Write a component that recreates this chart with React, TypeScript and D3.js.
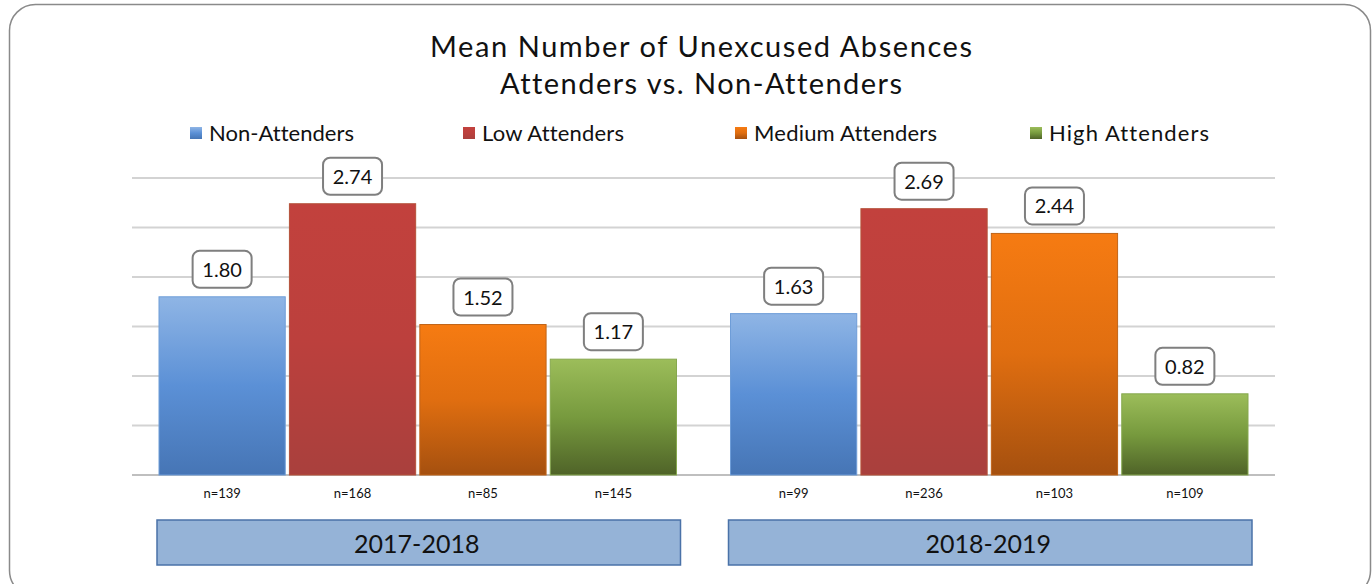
import React from "react";
import * as d3 from "d3";

const years = ["2017-2018", "2018-2019"];
const seriesNames = ["Non-Attenders", "Low Attenders", "Medium Attenders", "High Attenders"];
const values2017 = [1.8, 2.74, 1.52, 1.17];
const values2018 = [1.63, 2.69, 2.44, 0.82];
const counts2017 = ["n=139", "n=168", "n=85", "n=145"];
const counts2018 = ["n=99", "n=236", "n=103", "n=109"];
const yTicks = [0, 0.5, 1, 1.5, 2, 2.5, 3];

const gradStops = [
  ["#8FB5E5", "#5B90D6", "#4675B5"],
  ["#C2413D", "#BC403D", "#A9403D"],
  ["#F67B12", "#E06E10", "#A5500F"],
  ["#9CBD5A", "#779A3E", "#4F6328"],
];
const strokes = ["#6E9DD8", "#B5523A", "#C06418", "#86A84E"];

const FONT = "Lato, 'Open Sans', sans-serif";

export default function App() {
  const W = 1372, H = 584;
  const left = 132, right = 1275, top = 178, bottom = 475;
  const x0 = d3.scaleBand<string>().domain(years).range([left, right]);
  const x1 = d3.scaleBand<string>().domain(seriesNames).range([27, x0.bandwidth() - 27]).paddingInner(0.032);
  const y = d3.scaleLinear().domain([0, 3]).range([bottom, top]);
  const data = [
    { year: years[0], values: values2017, counts: counts2017 },
    { year: years[1], values: values2018, counts: counts2018 },
  ];
  const legendX = [190, 463, 735, 1030];
  const legendW = [145, 142, 183, 160];

  return (
    <svg width={W} height={H} style={{ position: "absolute", left: 0, top: 0, fontVariantLigatures: "none" }} fontFamily={FONT}>
      <defs>
        {gradStops.map((s, i) => (
          <linearGradient key={i} id={`g${i}`} x1="0" y1="0" x2="0" y2="1">
            <stop offset="0%" stopColor={s[0]} />
            <stop offset="50%" stopColor={s[1]} />
            <stop offset="100%" stopColor={s[2]} />
          </linearGradient>
        ))}
      </defs>
      <rect x={0} y={0} width={W} height={H} fill="#fff" />
      <rect x={9.5} y={4.5} width={1361} height={592} rx={26} ry={26} fill="none" stroke="#8a8a8a" strokeWidth={1.5} />

      <text x={701} y={57} textAnchor="middle" fontSize={29} fill="#111" textLength={542} lengthAdjust="spacing">
        Mean Number of Unexcused Absences
      </text>
      <text x={701} y={94} textAnchor="middle" fontSize={29} fill="#111" textLength={402} lengthAdjust="spacing">
        Attenders vs. Non-Attenders
      </text>

      {seriesNames.map((n, i) => (
        <g key={n}>
          <rect x={legendX[i]} y={127} width={12} height={12} fill={`url(#g${i})`} />
          <text x={legendX[i] + 19} y={141} fontSize={22} fill="#111" textLength={legendW[i]} lengthAdjust="spacing">{n}</text>
        </g>
      ))}

      {yTicks.map((t) => (
        <line key={t} x1={left} x2={right} y1={y(t)} y2={y(t)} stroke={t === 0 ? "#bfbfbf" : "#d3d3d3"} strokeWidth={2} />
      ))}

      {data.map((d) => (
        <g key={d.year} transform={`translate(${x0(d.year)},0)`}>
          {d.values.map((v, i) => {
            const bx = x1(seriesNames[i])!;
            const bw = x1.bandwidth();
            const cx = bx + bw / 2;
            const label = v.toFixed(2);
            return (
              <g key={i}>
                <rect x={bx} y={y(v)} width={bw} height={y(0) - y(v)} fill={`url(#g${i})`} stroke={strokes[i]} strokeWidth={1} />
                <rect x={cx - 29.5} y={y(v) - 46} width={59} height={37} rx={7} ry={7} fill="#fff" stroke="#7f7f7f" strokeWidth={2} />
                <text x={cx} y={y(v) - 20} textAnchor="middle" fontSize={20} fill="#111">{label}</text>
                <text x={cx} y={498} textAnchor="middle" fontSize={13} fill="#111">{d.counts[i]}</text>
              </g>
            );
          })}
          <rect x={25} y={520} width={x0.bandwidth() - 48} height={45} fill="#95B3D7" stroke="#4A72A8" strokeWidth={1.5} />
          <text x={x0.bandwidth() / 2 - 1} y={553} textAnchor="middle" fontSize={25} fill="#111">{d.year}</text>
        </g>
      ))}
    </svg>
  );
}
